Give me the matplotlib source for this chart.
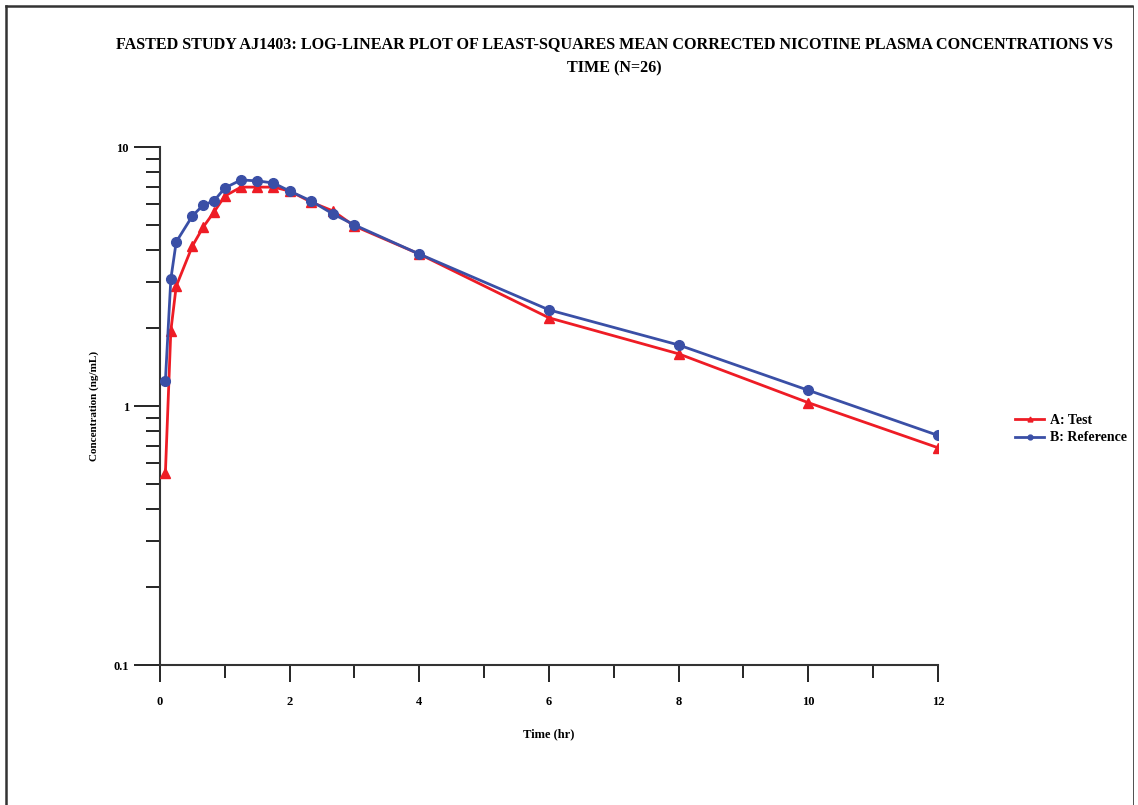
import matplotlib

matplotlib.use("Agg")
import matplotlib.pyplot as plt
from matplotlib.lines import Line2D
from matplotlib.ticker import FixedLocator, NullFormatter

# Mean concentration (ng/mL) vs time (hr)
time_hr = [0.083, 0.167, 0.25, 0.5, 0.667, 0.833, 1.0, 1.25, 1.5, 1.75,
           2.0, 2.33, 2.67, 3.0, 4.0, 6.0, 8.0, 10.0, 12.0]
test_conc = [0.55, 1.95, 2.9, 4.15, 4.91, 5.61, 6.47, 7.0, 7.0, 7.0,
             6.76, 6.13, 5.66, 4.95, 3.86, 2.19, 1.59, 1.03, 0.69]
ref_conc = [1.25, 3.09, 4.3, 5.42, 5.97, 6.19, 6.95, 7.46, 7.4, 7.26,
            6.76, 6.19, 5.51, 5.0, 3.86, 2.35, 1.72, 1.15, 0.77]

series_labels = ["A: Test", "B: Reference"]
title = ("FASTED STUDY AJ1403: LOG-LINEAR PLOT OF LEAST-SQUARES MEAN CORRECTED "
         "NICOTINE PLASMA CONCENTRATIONS VS\nTIME (N=26)")

RED = "#EE1C25"
BLUE = "#3A4FA6"
SERIF = ["Liberation Serif", "DejaVu Serif"]

plt.rcParams["font.family"] = SERIF
plt.rcParams["font.weight"] = "bold"

fig = plt.figure(figsize=(11.38, 8.05), dpi=100)
ax = fig.add_axes([160 / 1138, 1 - 665 / 805, 778 / 1138, 518 / 805])

ax.plot(time_hr, test_conc, color=RED, lw=2, marker="^", ms=7,
        label=series_labels[0], zorder=3)
ax.plot(time_hr, ref_conc, color=BLUE, lw=2, marker="o", ms=7,
        label=series_labels[1], zorder=4)

ax.set_yscale("log")
ax.set_ylim(0.1, 10)
ax.set_xlim(0, 12)

ax.set_xticks(range(0, 13, 2))
ax.xaxis.set_minor_locator(FixedLocator(range(1, 12, 2)))
ax.set_yticks([0.1, 1, 10])
ax.set_yticklabels(["0.1", "1", "10"])
ax.yaxis.set_minor_locator(FixedLocator(
    [m * d for d in (0.1, 1) for m in range(2, 10)]))
ax.yaxis.set_minor_formatter(NullFormatter())

# tick lengths in points (dpi 100 -> 1 pt = 1.39 px)
ax.tick_params(axis="x", which="major", length=12.2, width=1.2, pad=10, labelsize=9)
ax.tick_params(axis="x", which="minor", length=9.4, width=1.2)
ax.tick_params(axis="y", which="major", length=18.7, width=1.2, pad=3.6, labelsize=9)
ax.tick_params(axis="y", which="minor", length=10, width=1.2)

for side in ("top", "right"):
    ax.spines[side].set_visible(False)
for side in ("left", "bottom"):
    ax.spines[side].set_linewidth(1.5)
    ax.spines[side].set_color("#333333")

ax.set_xlabel("Time (hr)", fontsize=9, fontweight="bold", labelpad=15)
ax.set_ylabel("Concentration (ng/mL)", fontsize=8, fontweight="bold", labelpad=10.5)

ax.legend(loc="center left", bbox_to_anchor=(1.083, 0.455), frameon=False,
          fontsize=10, markerscale=0.5, handlelength=2.1, handletextpad=0.4,
          labelspacing=0.3)

fig.text(0.54, 1 - 56.5 / 805, title, ha="center", va="center", fontsize=11.6,
         fontweight="bold", linespacing=1.72)

# page frame
for xs, ys in [((0.005, 0.995), (0.993, 0.993)),
               ((0.005, 0.005), (0.0, 0.993)),
               ((0.996, 0.996), (0.0, 0.993))]:
    fig.add_artist(Line2D(xs, ys, transform=fig.transFigure, color="#333333",
                          lw=1.8 if xs[0] != 0.996 else 0.6))

fig.savefig("out.png", dpi=100)
